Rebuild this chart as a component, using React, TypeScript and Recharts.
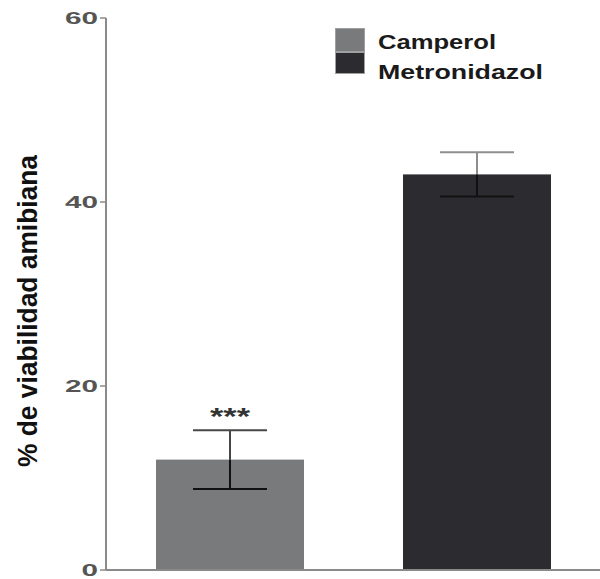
import { BarChart, Bar, XAxis, YAxis, Legend, Cell } from "recharts";

const categories = ["Camperol", "Metronidazol"];
const means = [12, 43];
const sem = [3.2, 2.4];
const significance = ["***", ""];
const yTicks = [0, 20, 40, 60];

const BAR_COLORS = ["#797a7c", "#2c2b2f"];
const ERR_UP_COLORS = ["#474747", "#8e8e8e"];
const ERR_DOWN_COLOR = "#111111";
const AXIS = "#8a8a8a";
const FONT = "'Liberation Sans', Arial, sans-serif";

const data = categories.map((name, i) => ({
  name,
  value: means[i],
  err: sem[i],
  sig: significance[i],
  idx: i,
}));

// bar + its error bar; error length taken from the bar's own pixel scale
const BarWithError = (props: any) => {
  const { x, y, width, height, fill, payload } = props;
  const unit = height / payload.value;
  const cx = x + width / 2;
  const yHi = y - payload.err * unit;
  const yLo = y + payload.err * unit;
  const cap = 37;
  const up = ERR_UP_COLORS[payload.idx];
  return (
    <g>
      <rect x={x} y={y} width={width} height={height} fill={fill} />
      <line x1={cx} x2={cx} y1={yHi} y2={y} stroke={up} strokeWidth={2} />
      <line x1={cx - cap} x2={cx + cap} y1={yHi} y2={yHi} stroke={up} strokeWidth={2} />
      <line x1={cx} x2={cx} y1={y} y2={yLo} stroke={ERR_DOWN_COLOR} strokeWidth={2} />
      <line x1={cx - cap} x2={cx + cap} y1={yLo} y2={yLo} stroke={ERR_DOWN_COLOR} strokeWidth={2} />
      {payload.sig && (
        <text
          x={cx}
          y={yHi - 5}
          textAnchor="middle"
          fontSize={24}
          fontWeight="bold"
          fill="#333"
          fontFamily={FONT}
          textLength={40}
          lengthAdjust="spacingAndGlyphs"
        >
          {payload.sig}
        </text>
      )}
    </g>
  );
};

const YTick = ({ x, y, payload }: any) => {
  const s = String(payload.value);
  return (
    <text
      x={x}
      y={y}
      dy="0.36em"
      textAnchor="end"
      fontSize={16}
      fontWeight="bold"
      fill="#555"
      fontFamily={FONT}
      textLength={s.length * 16.5}
      lengthAdjust="spacingAndGlyphs"
    >
      {s}
    </text>
  );
};

const YLabel = () => (
  <text
    x={37}
    y={311}
    transform="rotate(-90, 37, 311)"
    textAnchor="middle"
    fontSize={28}
    fontWeight="bold"
    fill="#111"
    fontFamily={FONT}
    textLength={312}
    lengthAdjust="spacingAndGlyphs"
  >
    % de viabilidad amibiana
  </text>
);

const LEGEND_WIDTHS = [118, 165];

const LegendContent = () => (
  <svg width={260} height={64}>
    <rect x={5.5} y={6.5} width={29} height={23} fill={BAR_COLORS[0]} stroke="#a0a0a0" />
    <rect x={5.5} y={30.5} width={29} height={21} fill={BAR_COLORS[1]} stroke="#a0a0a0" />
    {categories.map((c, i) => (
      <text
        key={c}
        x={48}
        y={i === 0 ? 27 : 57}
        fontSize={20}
        fontWeight="bold"
        fill="#1a1a1a"
        fontFamily={FONT}
        textLength={LEGEND_WIDTHS[i]}
        lengthAdjust="spacingAndGlyphs"
      >
        {c}
      </text>
    ))}
  </svg>
);

export default function App() {
  return (
    <div style={{ position: "absolute", left: 0, top: 0, background: "#fff" }}>
      <BarChart
        width={600}
        height={579}
        data={data}
        margin={{ top: 18, right: 0, bottom: 0, left: 0 }}
        barSize={148}
      >
        <XAxis
          dataKey="name"
          height={9}
          tick={false}
          tickLine={false}
          axisLine={{ stroke: AXIS, strokeWidth: 2 }}
        />
        <YAxis
          width={106}
          domain={[0, 60]}
          ticks={yTicks}
          tickSize={6}
          tick={<YTick />}
          tickLine={{ stroke: AXIS, strokeWidth: 1.5 }}
          axisLine={{ stroke: AXIS, strokeWidth: 2 }}
          label={<YLabel />}
        />
        <Legend
          layout="horizontal"
          verticalAlign="middle"
          align="center"
          wrapperStyle={{ top: 22, left: 330, width: 260, height: 64 }}
          content={<LegendContent />}
        />
        <Bar dataKey="value" shape={<BarWithError />} isAnimationActive={false}>
          {data.map((d) => (
            <Cell key={d.name} fill={BAR_COLORS[d.idx]} />
          ))}
        </Bar>
      </BarChart>
    </div>
  );
}
